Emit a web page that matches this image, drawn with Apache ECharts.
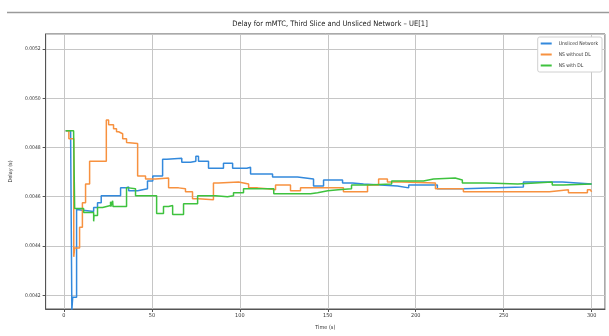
<!DOCTYPE html>
<html>
<head>
<meta charset="utf-8">
<script src="https://cdn.jsdelivr.net/npm/echarts@6/dist/echarts.min.js"></script>
<style>
  html, body { margin: 0; padding: 0; background: #fff; }
  #chart { width: 609px; height: 336px; }
</style>
</head>
<body>
<div id="chart"></div>
<script>
// Step traces of delay (s) against simulation time (s), one per network setup.
const seriesNames = ['Unsliced Network', 'NS without DL', 'NS with DL'];
const seriesColors = ['#3389dc', '#f7913f', '#3ec23e'];

const unslicedNetwork = [
  [1.0, 0.004868], [3.8, 0.004856], [4.5, 0.004140], [5.0, 0.004192], [7.2, 0.004548],
  [7.8, 0.004540], [16.9, 0.004556], [19.1, 0.004576], [21.2, 0.004604], [32.2, 0.004636],
  [35.1, 0.004640], [36.8, 0.004624], [41.9, 0.004632], [47.5, 0.004664], [50.5, 0.004684],
  [56.1, 0.004752], [58.5, 0.004756], [67.0, 0.004740], [72.0, 0.004744], [75.0, 0.004764],
  [76.5, 0.004744], [82.2, 0.004716], [90.7, 0.004736], [95.9, 0.004716], [104.0, 0.004720],
  [106.1, 0.004692], [118.6, 0.004680], [132.8, 0.004672], [141.9, 0.004644], [147.6, 0.004668],
  [158.4, 0.004656], [164.0, 0.004652], [170.3, 0.004644], [189.6, 0.004636], [196.0, 0.004648],
  [212.3, 0.004632], [227.1, 0.004640], [261.2, 0.004660], [283.4, 0.004652], [300.0, 0.004652]
];

const nsWithoutDL = [
  [1.0, 0.004868], [2.8, 0.004836], [5.6, 0.004356], [6.1, 0.004392], [8.9, 0.004476],
  [10.5, 0.004576], [12.3, 0.004652], [14.6, 0.004744], [24.1, 0.004912], [25.4, 0.004892],
  [28.2, 0.004876], [29.9, 0.004864], [31.1, 0.004856], [33.4, 0.004836], [35.6, 0.004820],
  [36.2, 0.004816], [41.9, 0.004684], [46.4, 0.004672], [52.1, 0.004676], [59.5, 0.004636],
  [65.2, 0.004632], [69.1, 0.004620], [73.1, 0.004592], [76.5, 0.004588], [85.0, 0.004656],
  [87.9, 0.004660], [99.3, 0.004652], [105.0, 0.004636], [110.1, 0.004632], [115.7, 0.004628],
  [120.3, 0.004648], [128.8, 0.004624], [134.5, 0.004636], [158.9, 0.004620], [172.6, 0.004648],
  [178.9, 0.004672], [183.9, 0.004660], [192.0, 0.004656], [211.2, 0.004632], [227.1, 0.004620],
  [276.0, 0.004628], [286.8, 0.004616], [297.6, 0.004628], [299.3, 0.004620], [300.0, 0.004620]
];

const nsWithDL = [
  [1.0, 0.004868], [5.5, 0.004860], [6.1, 0.004552], [11.2, 0.004536], [16.9, 0.004500],
  [17.1, 0.004524], [19.1, 0.004556], [22.0, 0.004564], [26.5, 0.004580], [26.7, 0.004560],
  [27.7, 0.004584], [27.9, 0.004560], [35.6, 0.004636], [36.8, 0.004632], [40.7, 0.004604],
  [52.7, 0.004532], [56.6, 0.004560], [59.5, 0.004564], [61.8, 0.004528], [68.0, 0.004572],
  [76.0, 0.004604], [86.2, 0.004600], [93.0, 0.004604], [96.4, 0.004616], [102.1, 0.004632],
  [119.3, 0.004612], [140.2, 0.004616], [144.2, 0.004624], [150.0, 0.004628], [156.0, 0.004632],
  [163.5, 0.004648], [172.1, 0.004652], [186.3, 0.004664], [204.4, 0.004672], [210.1, 0.004676],
  [222.4, 0.004668], [226.5, 0.004656], [240.1, 0.004652], [258.0, 0.004660], [277.6, 0.004648],
  [283.9, 0.004652], [300.0, 0.004652]
];

const seriesData = [unslicedNetwork, nsWithoutDL, nsWithDL];

// Axis extents (matplotlib-style padded limits)
const timeRange = [-10.4, 307.6];
const delayRange = [0.004144, 0.005261];

const chart = echarts.init(document.getElementById('chart'), null, { renderer: 'canvas' });

const tinyFont = 'Liberation Sans Narrow, DejaVu Sans Condensed, Liberation Sans, sans-serif';

chart.setOption({
  animation: false,
  backgroundColor: '#ffffff',
  title: {
    text: 'Delay for mMTC, Third Slice and Unsliced Network – UE[1]',
    left: 325,
    textAlign: 'center',
    top: 15,
    textStyle: { fontSize: 7.5, fontWeight: 'normal', color: '#222', fontFamily: tinyFont }
  },
  graphic: [{
    type: 'line',
    shape: { x1: 7, y1: 12.5, x2: 609, y2: 12.5 },
    style: { stroke: '#9a9a9a', lineWidth: 1.5 },
    silent: true
  }],
  legend: {
    orient: 'vertical',
    right: 7,
    top: 37,
    data: seriesNames,
    icon: 'rect',
    itemWidth: 11,
    itemHeight: 2,
    itemGap: 6,
    padding: [4, 4, 4, 3],
    borderColor: '#d0d0d0',
    borderWidth: 1,
    borderRadius: 2,
    backgroundColor: '#ffffff',
    textStyle: { fontSize: 5, color: '#333', fontFamily: tinyFont, padding: [0, 0, 0, 2] }
  },
  grid: {
    left: 45, right: 4, top: 34, bottom: 21,
    show: true, borderColor: '#555', borderWidth: 1, backgroundColor: 'transparent'
  },
  xAxis: {
    type: 'value',
    min: timeRange[0],
    max: timeRange[1],
    name: 'Time (s)',
    nameLocation: 'middle',
    nameGap: 16,
    nameTextStyle: { fontSize: 5.5, color: '#333', fontFamily: tinyFont },
    axisLine: { show: true, onZero: false, lineStyle: { color: '#555' } },
    axisTick: { show: true, length: 3, lineStyle: { color: '#555' } },
    axisLabel: {
      fontSize: 5.5, color: '#333', margin: 4, fontFamily: tinyFont,
      showMinLabel: false, showMaxLabel: false
    },
    splitLine: { show: true, lineStyle: { color: '#c6c6c6', width: 1 } }
  },
  yAxis: {
    type: 'value',
    min: delayRange[0],
    max: delayRange[1],
    name: 'Delay (s)',
    nameLocation: 'middle',
    nameGap: 27,
    nameTextStyle: { fontSize: 5.5, color: '#333', fontFamily: tinyFont },
    axisLine: { show: true, onZero: false, lineStyle: { color: '#555' } },
    axisTick: { show: true, length: 3, lineStyle: { color: '#555' } },
    axisLabel: {
      fontSize: 5, color: '#333', margin: 5, fontFamily: tinyFont,
      showMinLabel: false, showMaxLabel: false,
      formatter: v => v.toFixed(4)
    },
    splitLine: { show: true, lineStyle: { color: '#c6c6c6', width: 1 } }
  },
  series: seriesNames.map((name, i) => ({
    name,
    type: 'line',
    step: 'end',
    data: seriesData[i],
    showSymbol: false,
    symbol: 'none',
    color: seriesColors[i],
    lineStyle: { width: 1.5, color: seriesColors[i] },
    z: 2 + i
  }))
});
</script>
</body>
</html>
